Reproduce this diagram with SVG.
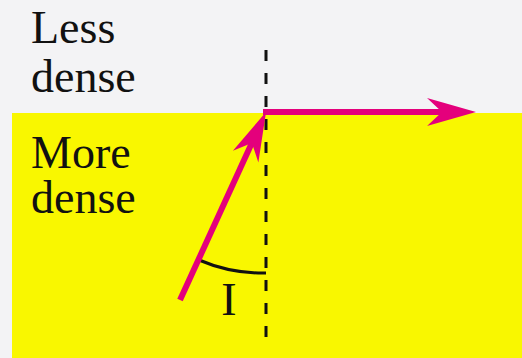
<svg xmlns="http://www.w3.org/2000/svg" width="522" height="358" viewBox="0 0 522 358">
<style>
.lbl{font-family:"Liberation Serif","Times New Roman",serif;font-size:46px;fill:#111}
.ray{stroke:#e4007c;stroke-width:6;fill:none}
.normal{stroke:#111;stroke-width:3;stroke-dasharray:11 12;fill:none}
.arc{stroke:#111;stroke-width:3;fill:none}
</style>
<defs>
<marker id="ah" markerUnits="userSpaceOnUse" viewBox="-32 -16 54 32" markerWidth="54" markerHeight="32" refX="0" refY="0" orient="auto">
<path d="M20,0 L-29,-14 L-14,0 L-29,14 Z" fill="#e4007c"/>
</marker>
</defs>
<rect x="0" y="0" width="522" height="358" fill="#f3f3f5"/>
<g id="more-dense-region">
<rect x="12" y="113" width="510" height="245" fill="#f9f700"/>
</g>
<g id="labels">
<text class="lbl" x="31" y="43">Less</text>
<text class="lbl" x="31" y="92">dense</text>
<text class="lbl" x="31" y="168">More</text>
<text class="lbl" x="31" y="213">dense</text>
<text class="lbl" x="229" y="315" text-anchor="middle">I</text>
</g>
<g id="normal">
<line class="normal" x1="266" y1="50" x2="266" y2="341"/>
</g>
<g id="connectors">
<path class="arc" d="M199,260 A161,161 0 0 0 266,273"/>
<line class="ray" x1="180" y1="300" x2="257.7" y2="130.2" marker-end="url(#ah)"/>
<line class="ray" x1="263" y1="112" x2="456" y2="112" marker-end="url(#ah)"/>
</g>
</svg>
